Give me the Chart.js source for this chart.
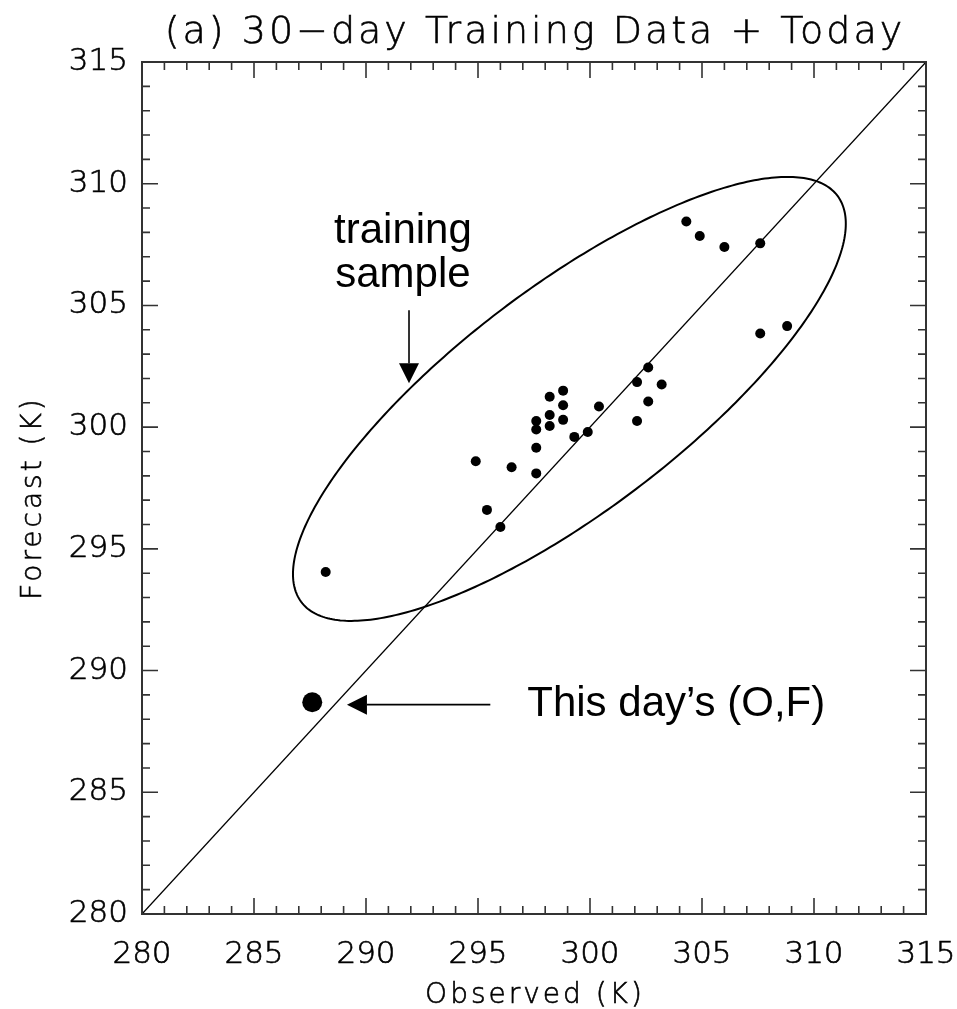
<!DOCTYPE html>
<html>
<head>
<meta charset="utf-8">
<title>30-day Training Data + Today</title>
<script src="https://cdn.jsdelivr.net/npm/chart.js@4.4.1/dist/chart.umd.min.js"></script>
<style>
  html, body { margin: 0; padding: 0; background: #ffffff; }
  #wrap { width: 957px; height: 1009px; position: relative; }
</style>
</head>
<body>
<div id="wrap"><canvas id="chart" width="957" height="1009"></canvas></div>
<script>
// Training sample: observed and forecast temperatures (K)
const obsTrain  = [288.2, 294.9, 295.4, 296.0, 296.5, 297.6, 297.6, 297.6, 297.6, 298.2,
                   298.2, 298.2, 298.8, 298.8, 298.8, 299.3, 299.9, 300.4, 302.1, 302.1,
                   302.6, 302.6, 303.2, 304.3, 304.9, 306.0, 307.6, 307.6, 308.8];
const fcstTrain = [294.05, 298.6, 296.6, 295.9, 298.35, 298.1, 299.15, 299.9, 300.25, 301.25,
                   300.5, 300.05, 301.5, 300.9, 300.3, 299.6, 299.8, 300.85, 301.85, 300.25,
                   302.45, 301.05, 301.75, 308.45, 307.85, 307.4, 307.55, 303.85, 304.15];

// Today's (observed, forecast) pair
const obsToday  = [287.6];
const fcstToday = [288.7];

// Axis range and ticks (K)
const axisMin = 280;
const axisMax = 315;
const majorStep = 5;
const minorStep = 1;

// Ellipse enclosing the training sample: centre, half-extent in O and F, correlation
const ellipseCentre = [299.08, 301.16];
const ellipseHalf   = [12.34, 9.12];
const ellipseCorr   = [0.789];

// Annotation anchors (data coordinates)
const labelTraining = ["training", "sample"];
const labelTrainingAt = [291.65, 305.75];
const arrowTrainingFrom = [291.92, 304.8];
const arrowTrainingTo   = [291.92, 301.8];
const labelToday = "This day\u2019s (O,F)";
const labelTodayAt = [297.2, 288.6];
const arrowTodayFrom = [295.55, 288.6];
const arrowTodayTo   = [289.15, 288.6];

const titleText = "(a) 30\u2212day Training Data + Today";
const xTitle = "Observed (K)";
const yTitle = "Forecast (K)";

const thinFont = '"DejaVu Sans", sans-serif';
const labelFont = '"Liberation Sans", Arial, sans-serif';
const ink = '#000000';
const frameInk = '#333333';

const toPoints = (xs, ys) => xs.map((x, i) => ({ x: x, y: ys[i] }));

function arrow(ctx, x0, y0, x1, y1, headLen, headHalf) {
  const ang = Math.atan2(y1 - y0, x1 - x0);
  const bx = x1 - headLen * Math.cos(ang), by = y1 - headLen * Math.sin(ang);
  ctx.beginPath();
  ctx.moveTo(x0, y0);
  ctx.lineTo(bx, by);
  ctx.stroke();
  ctx.beginPath();
  ctx.moveTo(x1, y1);
  ctx.lineTo(bx + headHalf * Math.sin(ang), by - headHalf * Math.cos(ang));
  ctx.lineTo(bx - headHalf * Math.sin(ang), by + headHalf * Math.cos(ang));
  ctx.closePath();
  ctx.fill();
}

function thinText(ctx, text, x, y) {
  ctx.fillText(text, x, y);
  ctx.strokeText(text, x, y);
}

// Frame, inward ticks on all four sides, ellipse, labels and arrows
const decorations = {
  id: 'decorations',
  afterDatasetsDraw(chart) {
    const { ctx, chartArea: a, scales: { x, y } } = chart;
    ctx.save();

    // ellipse
    ctx.beginPath();
    const r = ellipseCorr[0], s = Math.sqrt(1 - r * r);
    for (let k = 0; k <= 360; k++) {
      const t = k * Math.PI / 180;
      const ox = ellipseCentre[0] + ellipseHalf[0] * Math.cos(t);
      const oy = ellipseCentre[1] + ellipseHalf[1] * (r * Math.cos(t) + s * Math.sin(t));
      const px = x.getPixelForValue(ox), py = y.getPixelForValue(oy);
      if (k === 0) ctx.moveTo(px, py); else ctx.lineTo(px, py);
    }
    ctx.closePath();
    ctx.lineWidth = 2;
    ctx.strokeStyle = ink;
    ctx.stroke();

    // frame
    ctx.lineWidth = 2;
    ctx.strokeStyle = frameInk;
    ctx.strokeRect(a.left, a.top, a.right - a.left, a.bottom - a.top);

    // ticks
    ctx.lineWidth = 1.6;
    ctx.beginPath();
    for (let v = axisMin; v <= axisMax + 1e-9; v += minorStep) {
      const len = (Math.round(v) % majorStep === 0) ? 16 : 8;
      const px = x.getPixelForValue(v);
      const py = y.getPixelForValue(v);
      ctx.moveTo(px, a.bottom); ctx.lineTo(px, a.bottom - len);
      ctx.moveTo(px, a.top);    ctx.lineTo(px, a.top + len);
      ctx.moveTo(a.left, py);   ctx.lineTo(a.left + len, py);
      ctx.moveTo(a.right, py);  ctx.lineTo(a.right - len, py);
    }
    ctx.stroke();

    // annotations
    ctx.fillStyle = ink;
    ctx.strokeStyle = ink;
    ctx.font = '42px ' + labelFont;
    ctx.textAlign = 'center';
    ctx.textBaseline = 'alphabetic';
    const tx = x.getPixelForValue(labelTrainingAt[0]);
    const ty = y.getPixelForValue(labelTrainingAt[1]);
    ctx.fillText(labelTraining[0], tx, ty - 44);
    ctx.fillText(labelTraining[1], tx, ty);
    ctx.lineWidth = 1.6;
    arrow(ctx, x.getPixelForValue(arrowTrainingFrom[0]), y.getPixelForValue(arrowTrainingFrom[1]),
               x.getPixelForValue(arrowTrainingTo[0]), y.getPixelForValue(arrowTrainingTo[1]), 20, 10);

    ctx.textAlign = 'left';
    ctx.textBaseline = 'middle';
    ctx.fillText(labelToday, x.getPixelForValue(labelTodayAt[0]), y.getPixelForValue(labelTodayAt[1]));
    arrow(ctx, x.getPixelForValue(arrowTodayFrom[0]), y.getPixelForValue(arrowTodayFrom[1]),
               x.getPixelForValue(arrowTodayTo[0]), y.getPixelForValue(arrowTodayTo[1]), 20, 10);

    // title and axis titles
    ctx.letterSpacing = '3px';
    ctx.lineWidth = 0.6;
    ctx.font = '200 38px ' + thinFont;
    ctx.textAlign = 'center';
    ctx.textBaseline = 'alphabetic';
    thinText(ctx, titleText, (a.left + a.right) / 2 + 1, 43);
    ctx.font = '200 28px ' + thinFont;
    thinText(ctx, xTitle, (a.left + a.right) / 2 + 1, 1003);
    ctx.save();
    ctx.translate(41, (a.top + a.bottom) / 2 + 10);
    ctx.rotate(-Math.PI / 2);
    thinText(ctx, yTitle, 0, 0);
    ctx.restore();
    ctx.letterSpacing = '0px';

    ctx.restore();
  }
};

const tickFont = { family: thinFont, size: 31, weight: 200 };

new Chart(document.getElementById('chart'), {
  type: 'scatter',
  data: {
    datasets: [
      {
        type: 'line',
        label: 'O = F',
        data: toPoints([axisMin, axisMax], [axisMin, axisMax]),
        borderColor: ink,
        borderWidth: 1.3,
        pointRadius: 0,
        fill: false,
        order: 3
      },
      {
        label: 'Training sample',
        data: toPoints(obsTrain, fcstTrain),
        backgroundColor: ink,
        borderColor: ink,
        pointRadius: 5,
        borderWidth: 0,
        order: 1
      },
      {
        label: 'This day',
        data: toPoints(obsToday, fcstToday),
        backgroundColor: ink,
        borderColor: ink,
        pointRadius: 10,
        borderWidth: 0,
        order: 1
      }
    ]
  },
  options: {
    responsive: false,
    animation: false,
    devicePixelRatio: 1,
    layout: { padding: { top: 62, right: 31, left: 0, bottom: 0 } },
    plugins: {
      legend: { display: false },
      tooltip: { enabled: false },
      title: { display: false }
    },
    scales: {
      x: {
        type: 'linear',
        min: axisMin,
        max: axisMax,
        grid: { display: false, drawTicks: false },
        border: { display: false },
        ticks: {
          stepSize: majorStep,
          color: ink,
          textStrokeColor: ink,
          textStrokeWidth: 0.6,
          padding: 22,
          maxRotation: 0,
          font: tickFont,
          callback: v => String(v)
        },
        afterFit(scale) {
          scale.height = 95;
          scale.paddingLeft = 0;
          scale.paddingRight = 0;
        }
      },
      y: {
        type: 'linear',
        min: axisMin,
        max: axisMax,
        grid: { display: false, drawTicks: false },
        border: { display: false },
        ticks: {
          stepSize: majorStep,
          color: ink,
          textStrokeColor: ink,
          textStrokeWidth: 0.6,
          padding: 14,
          font: tickFont,
          callback: v => String(v)
        },
        afterFit(scale) {
          scale.width = 142;
          scale.paddingTop = 0;
          scale.paddingBottom = 0;
        }
      }
    }
  },
  plugins: [decorations]
});
</script>
</body>
</html>
